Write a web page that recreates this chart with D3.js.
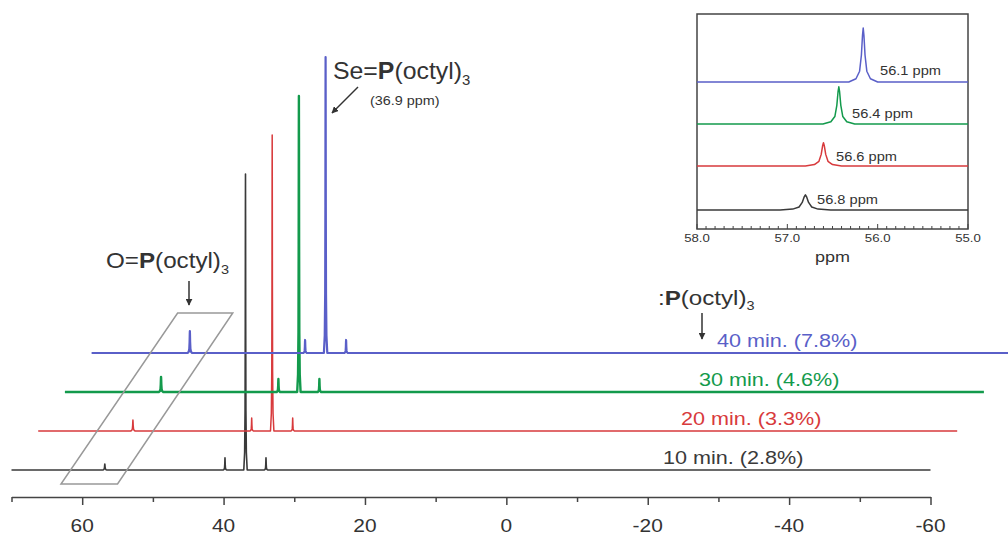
<!DOCTYPE html>
<html>
<head>
<meta charset="utf-8">
<script src="https://cdnjs.cloudflare.com/ajax/libs/d3/7.8.5/d3.min.js"></script>
<style>
  body { margin: 0; background: #fff; }
  svg { display: block; font-family: "Liberation Sans", Arial, sans-serif; }
</style>
</head>
<body>
<div id="chart"></div>
<script>
// spectra, bottom to top
var series = ["10 min. (2.8%)", "20 min. (3.3%)", "30 min. (4.6%)", "40 min. (7.8%)"];
var colors = ["#3a3a3a", "#d83a3c", "#139a4c", "#5a5fc8"];
var strokeW = [1.6, 1.5, 2.4, 2.2];

// Se=P(octyl)3 main peak and its 77Se satellites (ppm, intensity)
var seShift = [36.9, 36.9, 36.9, 36.9];
var seHeight = [100, 100, 100, 100];
var satShift = [39.8, 34.0];
var satHeight = [4.1, 4.4, 4.4, 4.4];
// O=P(octyl)3 peak
var opShift = [56.8, 56.6, 56.4, 56.1];
var opHeight = [2.0, 3.7, 5.1, 7.4];

// inset (zoom on O=P region)
var insetLabels = ["56.8 ppm", "56.6 ppm", "56.4 ppm", "56.1 ppm"];
var insetPeak = [56.8, 56.6, 56.43, 56.16];
var insetHeight = [28, 43, 69, 100];
var insetWidth = [0.035, 0.025, 0.022, 0.02];

var mainTicks = d3.range(70, -61, -10);
var mainLabels = [60, 40, 20, 0, -20, -40, -60];
var insetTicks = d3.range(58, 54.95, -0.1);
var insetTickLabels = ["58.0", "57.0", "56.0", "55.0"];

var width = 1008, height = 536;

var svg = d3.select("#chart").append("svg")
    .attr("width", width)
    .attr("height", height);

svg.append("defs").append("marker")
    .attr("id", "arrow")
    .attr("viewBox", "0 0 10 10")
    .attr("refX", 9).attr("refY", 5)
    .attr("markerWidth", 7).attr("markerHeight", 7)
    .attr("markerUnits", "userSpaceOnUse")
    .attr("orient", "auto")
    .append("path")
    .attr("d", "M0,0L10,5L0,10z")
    .attr("fill", "#333");

// main scales
var x = d3.scaleLinear().domain([70, -60]).range([11.5, 930.5]);
var yI = d3.scaleLinear().domain([0, 100]).range([0, 296]);
var base0 = 470, dx = 26.7, dy = 39;

// lorentzian-like glyph profile for a peak (offset in half-widths, fraction of height)
var profK = [8, 4, 2, 1, 0.4, 0, -0.4, -1, -2, -4, -8];
var profF = [0, 0.06, 0.2, 0.5, 0.86, 1, 0.86, 0.5, 0.2, 0.06, 0];

function peakPts(p, h, w) {
    return profK.map(function (k, j) { return [p + k * w, h * profF[j]]; });
}

// spectra
series.forEach(function (name, i) {
    var peaks = [
        {p: opShift[i], h: opHeight[i], w: 0.04},
        {p: satShift[0], h: satHeight[i], w: 0.03},
        {p: seShift[i], h: seHeight[i], w: 0.03},
        {p: satShift[1], h: satHeight[i], w: 0.03}
    ].sort(function (a, b) { return b.p - a.p; });
    var pts = [[70, 0]];
    peaks.forEach(function (pk) { pts = pts.concat(peakPts(pk.p, pk.h, pk.w)); });
    pts.push([-60, 0]);

    var line = d3.line()
        .x(function (d) { return x(d[0]) + i * dx; })
        .y(function (d) { return base0 - i * dy - yI(d[1]); });

    svg.append("path")
        .datum(pts)
        .attr("d", line)
        .attr("fill", "none")
        .attr("stroke", colors[i])
        .attr("stroke-width", strokeW[i])
        .attr("stroke-linejoin", "round");
});

// main axis
var axisY = 497;
var axis = svg.append("g")
    .attr("transform", "translate(0," + axisY + ")")
    .call(d3.axisBottom(x).tickValues(mainTicks).tickSizeOuter(0).tickFormat(""));
axis.select(".domain").attr("stroke", "#444").attr("stroke-width", 1.6);
axis.selectAll(".tick line")
    .attr("stroke", "#444").attr("stroke-width", 1.5)
    .attr("y2", function (d) { return d % 20 === 0 ? 8 : 5; });
svg.append("g").selectAll("text")
    .data(mainLabels)
    .join("text")
    .attr("transform", function (d) { return "translate(" + x(d) + "," + (axisY + 35) + ") scale(1.1,1)"; })
    .attr("text-anchor", "middle")
    .attr("font-size", 19)
    .attr("fill", "#333")
    .text(function (d) { return d; });

// text helper with horizontal stretch, bold and subscript parts
function rich(g, tx, ty, parts, size, sx, color, anchor) {
    var t = g.append("text")
        .attr("transform", "translate(" + tx + "," + ty + ") scale(" + sx + ",1)")
        .attr("font-size", size)
        .attr("fill", color)
        .attr("text-anchor", anchor || "start");
    parts.forEach(function (p) {
        var s = t.append("tspan").text(p.t);
        if (p.b) s.attr("font-weight", "bold");
        if (p.sub) s.attr("font-size", size * 0.6).attr("dy", size * 0.25);
    });
    return t;
}

// spectrum labels
series.forEach(function (name, i) {
    rich(svg, 663 + i * 18, 464 - i * dy, [{t: name}], 18, 1.2, colors[i]);
});

// compound annotations
rich(svg, 106, 268, [{t: "O="}, {t: "P", b: true}, {t: "(octyl)"}, {t: "3", sub: true}], 22, 1.1, "#333");
rich(svg, 333, 79, [{t: "Se="}, {t: "P", b: true}, {t: "(octyl)"}, {t: "3", sub: true}], 23, 1.08, "#333");
rich(svg, 370, 105, [{t: "(36.9 ppm)"}], 12, 1.2, "#333");
rich(svg, 658, 305, [{t: ":"}, {t: "P", b: true}, {t: "(octyl)"}, {t: "3", sub: true}], 21, 1.15, "#333");

function arrow(x1, y1, x2, y2) {
    svg.append("line")
        .attr("x1", x1).attr("y1", y1).attr("x2", x2).attr("y2", y2)
        .attr("stroke", "#333").attr("stroke-width", 1.5)
        .attr("marker-end", "url(#arrow)");
}
arrow(189, 281, 189, 305);
arrow(358, 87, 332, 113);
arrow(702, 313, 702, 339);

// box around the O=P peaks
var boxBottom = [63, 55], boxTop = [46.5, 38.7];
var boxYb = base0 + 14, boxYt = base0 - 3 * dy - 40;
svg.append("path")
    .attr("d", d3.line()([
        [x(boxBottom[0]), boxYb], [x(boxBottom[1]), boxYb],
        [x(boxTop[1]), boxYt], [x(boxTop[0]), boxYt]
    ]) + "Z")
    .attr("fill", "none")
    .attr("stroke", "#999")
    .attr("stroke-width", 1.5);

// inset
var ix = d3.scaleLinear().domain([58, 55]).range([697, 968]);
var iy = d3.scaleLinear().domain([0, 100]).range([0, 54]);
var iTop = 14, iBot = 229;
var insetBase = [210, 166, 124, 82];
var inset = svg.append("g");

inset.append("rect")
    .attr("x", ix(58)).attr("y", iTop)
    .attr("width", ix(55) - ix(58)).attr("height", iBot - iTop)
    .attr("fill", "none").attr("stroke", "#444").attr("stroke-width", 1.5);

series.forEach(function (name, i) {
    var pts = [[58, 0]].concat(peakPts(insetPeak[i], insetHeight[i], insetWidth[i]), [[55, 0]]);
    inset.append("path")
        .datum(pts)
        .attr("d", d3.line()
            .x(function (d) { return ix(d[0]); })
            .y(function (d) { return insetBase[i] - iy(d[1]); }))
        .attr("fill", "none")
        .attr("stroke", colors[i])
        .attr("stroke-width", 1.5)
        .attr("stroke-linejoin", "round");
});

var insetLabelX = [817, 836, 852, 880];
var insetLabelY = [204, 161, 118, 75];
insetLabels.forEach(function (t, i) {
    rich(inset, insetLabelX[i], insetLabelY[i], [{t: t}], 12, 1.22, "#333");
});

inset.append("g").selectAll("line")
    .data(insetTicks)
    .join("line")
    .attr("x1", function (d) { return ix(d); })
    .attr("x2", function (d) { return ix(d); })
    .attr("y1", iBot)
    .attr("y2", function (d) { return Math.abs(d - Math.round(d)) < 0.01 ? iBot - 5 : iBot - 3; })
    .attr("stroke", "#444").attr("stroke-width", 1);

inset.append("g").selectAll("text")
    .data(insetTickLabels)
    .join("text")
    .attr("transform", function (d) { return "translate(" + ix(+d) + "," + (iBot + 13) + ") scale(1.2,1)"; })
    .attr("text-anchor", "middle")
    .attr("font-size", 11)
    .attr("fill", "#333")
    .text(function (d) { return d; });

rich(inset, ix(56.5), iBot + 33, [{t: "ppm"}], 15, 1.2, "#333", "middle");
</script>
</body>
</html>
